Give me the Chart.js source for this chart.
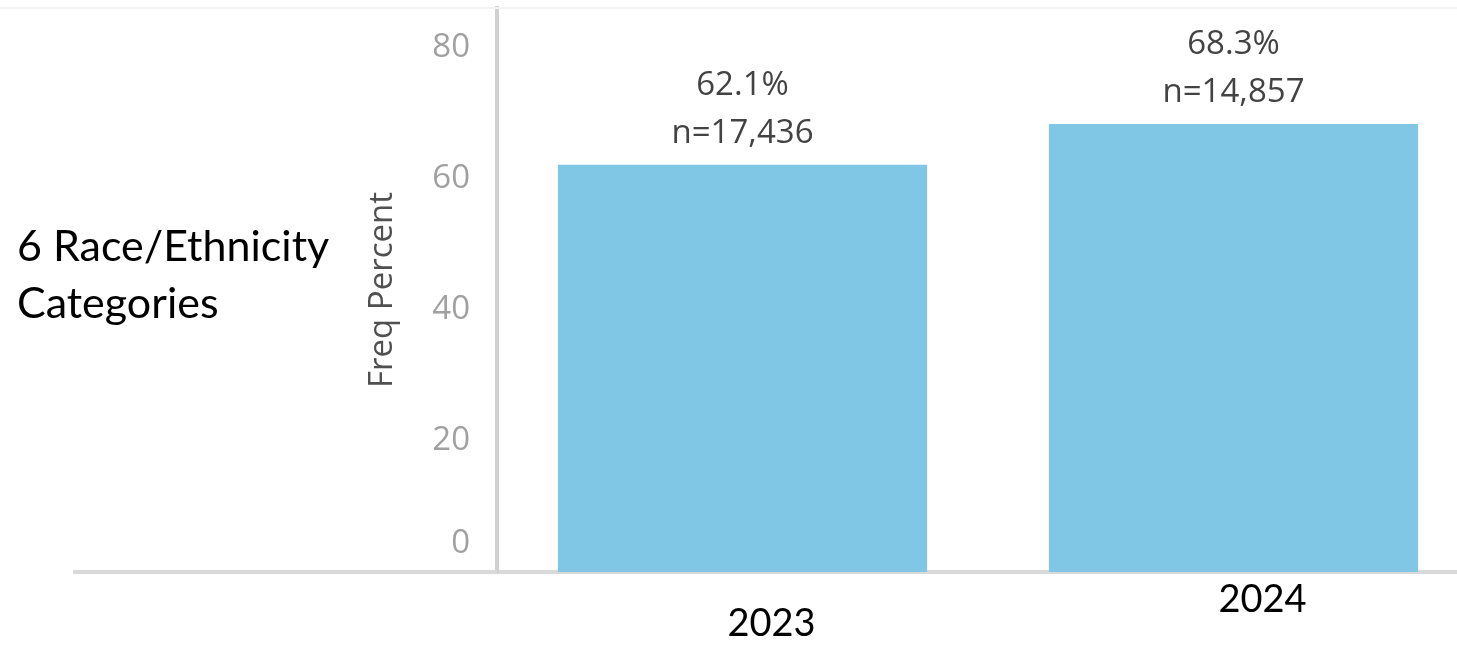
<!DOCTYPE html>
<html>
<head>
<meta charset="utf-8">
<script src="https://cdn.jsdelivr.net/npm/chart.js@4.4.1/dist/chart.umd.min.js"></script>
<style>
  html, body { margin: 0; padding: 0; background: #ffffff; overflow: hidden; width: 1457px; height: 646px; }
  #wrap { position: absolute; left: 0; top: 0; width: 1500px; height: 646px; }
</style>
</head>
<body>
<div id="wrap"><canvas id="c" width="1500" height="646"></canvas></div>
<script>
// ---- data ----
const categories = ['2023', '2024'];
const percentValues = [62.1, 68.3];
const nValues = [17436, 14857];
const yTickValues = [0, 20, 40, 60, 80];
const yTitle = 'Freq Percent';
const sideLabelLines = ['6 Race/Ethnicity', 'Categories'];
// blank lines placed above each category label (the 2023 label sits lower)
const categoryLabelDrop = [1, 0];

const barColor = '#7fc7e5';

const extrasPlugin = {
  id: 'extras',
  afterDraw(chart) {
    const ctx = chart.ctx;
    const area = chart.chartArea;
    const y0 = chart.scales.y.getPixelForValue(0);
    ctx.save();
    // faint top rule
    ctx.fillStyle = '#f3f3f3';
    ctx.fillRect(0, area.top - 1, chart.width, 2);
    // baseline extension to the left of the y axis
    ctx.fillStyle = '#d9d9d9';
    ctx.fillRect(73, Math.round(y0) - 2, area.left - 73, 4);
    // value labels above bars
    const meta = chart.getDatasetMeta(0);
    ctx.fillStyle = '#434343';
    ctx.font = '33px "Open Sans"';
    ctx.textAlign = 'center';
    ctx.textBaseline = 'middle';
    meta.data.forEach((bar, i) => {
      ctx.fillText(percentValues[i].toFixed(1) + '%', bar.x, bar.y - 79);
      ctx.fillText('n=' + nValues[i].toLocaleString('en-US'), bar.x, bar.y - 31);
    });
    // side label
    ctx.fillStyle = '#000000';
    ctx.font = '43px Lato';
    ctx.textAlign = 'left';
    ctx.textBaseline = 'alphabetic';
    sideLabelLines.forEach((t, i) => ctx.fillText(t, 17, 261 + i * 57));
    ctx.restore();
  }
};

new Chart(document.getElementById('c'), {
  type: 'bar',
  data: {
    labels: categories,
    datasets: [{
      data: percentValues,
      backgroundColor: barColor,
      borderWidth: 0,
      barPercentage: 0.752,
      categoryPercentage: 1.0
    }]
  },
  options: {
    responsive: false,
    animation: false,
    devicePixelRatio: 1,
    layout: { padding: { left: 363, right: 21, top: 8, bottom: 0 } },
    plugins: { legend: { display: false }, tooltip: { enabled: false }, title: { display: false } },
    scales: {
      x: {
        grid: { display: false, drawTicks: false },
        border: { display: true, color: '#d9d9d9', width: 4 },
        ticks: {
          color: '#000000',
          font: { family: 'Lato', size: 38, lineHeight: '24px' },
          padding: 16,
          labelOffset: 29,
          maxRotation: 0,
          autoSkip: false,
          callback: (v, i) => {
            const lines = [];
            for (let k = 0; k < categoryLabelDrop[i]; k++) lines.push('');
            lines.push(categories[i]);
            return lines.length === 1 ? lines[0] : lines;
          }
        },
        afterFit: (s) => { s.height = 74; s.paddingLeft = 0; s.paddingRight = 0; }
      },
      y: {
        min: 0,
        max: 86,
        grid: { display: false, drawTicks: false },
        border: { display: true, color: '#d0d0d0', width: 4 },
        afterBuildTicks: (s) => { s.ticks = yTickValues.map(v => ({ value: v })); },
        ticks: {
          color: '#a0a0a0',
          font: { family: 'Open Sans', size: 33, lineHeight: '56px' },
          padding: 27,
          autoSkip: false,
          callback: (v) => (v === 0 ? [String(v), ''] : String(v))
        },
        title: {
          display: true,
          text: yTitle,
          color: '#505050',
          font: { family: 'Open Sans', size: 33, lineHeight: 1.2 },
          padding: 0
        },
        afterFit: (s) => { s.width = 134; s.paddingTop = 0; s.paddingBottom = 0; }
      }
    }
  },
  plugins: [extrasPlugin]
});
</script>
</body>
</html>
